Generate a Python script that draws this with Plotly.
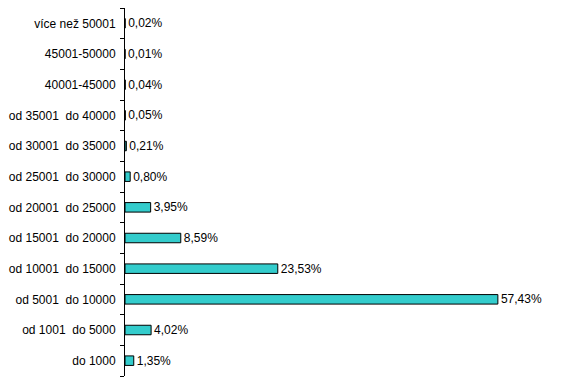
import plotly.graph_objects as go

categories = ["do 1000", "od 1001  do 5000", "od 5001  do 10000", "od 10001  do 15000",
              "od 15001  do 20000", "od 20001  do 25000", "od 25001  do 30000",
              "od 30001  do 35000", "od 35001  do 40000", "40001-45000", "45001-50000",
              "více než 50001"]
values = [1.35, 4.02, 57.43, 23.53, 8.59, 3.95, 0.80, 0.21, 0.05, 0.04, 0.01, 0.02]

fig = go.Figure(go.Bar(
    x=values, y=categories, orientation="h",
    marker=dict(color="#33CCCC", line=dict(color="#000000", width=1)),
    texttemplate="%{x:.2f}%", textposition="outside", constraintext="none",
    textfont=dict(family="Liberation Sans, Arial", size=12, color="#000000"),
    cliponaxis=False,
))

# page body has an 8px default margin, so the figure is offset by 8px
fig.update_layout(
    width=573, height=374,
    margin=dict(l=117, r=21, t=0, b=6, autoexpand=False),
    paper_bgcolor="white", plot_bgcolor="white",
    separators=", ",
    bargap=0.69,
    showlegend=False,
    font=dict(family="Liberation Sans, Arial", size=12, color="#000000"),
    xaxis=dict(range=[0, 67], visible=False, fixedrange=True),
    yaxis=dict(type="category", showline=True, linecolor="#000000", linewidth=1,
               ticks="outside", ticklen=4, tickcolor="#000000", tickson="boundaries",
               showgrid=False, zeroline=False, automargin=False, ticklabelstandoff=6,
               tickfont=dict(family="Liberation Sans, Arial", size=12, color="#000000")),
)

fig.write_html("out.html")
